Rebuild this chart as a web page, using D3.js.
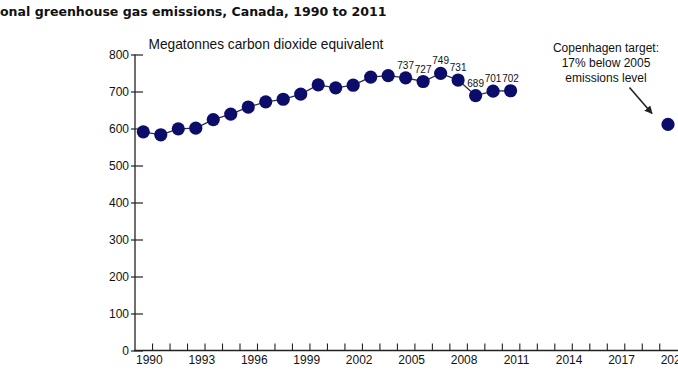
<!DOCTYPE html>
<html><head><meta charset="utf-8">
<script src="https://cdn.jsdelivr.net/npm/d3@7"></script>
<style>
html,body{margin:0;padding:0;background:#fff;}
svg{display:block;}
</style></head>
<body>
<svg id="chart" width="678" height="381"></svg>
<script>
// ---- data ----
const years = [1990,1991,1992,1993,1994,1995,1996,1997,1998,1999,2000,2001,2002,2003,2004,2005,2006,2007,2008,2009,2010,2011];
const emissions = [591,583,599,601,624,639,658,672,679,693,718,710,717,739,743,737,727,749,731,689,701,702];
const labelledYears = [2005,2006,2007,2008,2009,2010,2011];
const targetYear = 2020;
const targetValue = 611;
const yTicks = [0,100,200,300,400,500,600,700,800];
const xLabelYears = [1990,1993,1996,1999,2002,2005,2008,2011,2014,2017,2020];
const xTickYears = d3.range(1990.5, 2020, 1);
const titleText = "National greenhouse gas emissions, Canada, 1990 to 2011";
const titleHidden = "Nati";
const unitText = "Megatonnes carbon dioxide equivalent";
const noteLines = ["Copenhagen target:", "17% below 2005", "emissions level"];

// ---- layout ----
const W = 678, H = 381;
const svg = d3.select("#chart");
const x = d3.scaleLinear().domain([1990, 2020]).range([143.3, 668]);
const y = d3.scaleLinear().domain([0, 800]).range([350.5, 54.5]);
const axisX = 135;
const dotColor = "#0c0c6a";
const inkColor = "#222";

// title (left part cropped like the reference)
const title = svg.append("text")
  .attr("y", 16)
  .attr("font-family", "DejaVu Sans")
  .attr("font-weight", "bold")
  .attr("font-size", 12)
  .attr("fill", "#111")
  .text(titleText);
{
  const full = title.node().getComputedTextLength();
  const tmp = svg.append("text").attr("font-family","DejaVu Sans").attr("font-weight","bold").attr("font-size",12).text(titleHidden);
  const hid = tmp.node().getComputedTextLength();
  tmp.remove();
  const s = 387 / (full - hid);
  title.attr("font-size", 12 * s).attr("x", -hid * s);
}

// unit subtitle
const unit = svg.append("text")
  .attr("x", 148.5).attr("y", 48.5)
  .attr("font-family", "Liberation Sans, Arial, sans-serif")
  .attr("font-size", 13)
  .attr("fill", "#111")
  .text(unitText);
{
  const w = unit.node().getComputedTextLength();
  unit.attr("font-size", 13 * 235 / w);
}

// y axis
const gy = svg.append("g").attr("transform", `translate(${axisX},0)`)
  .call(d3.axisLeft(y).tickValues(yTicks).tickSizeInner(-8).tickSizeOuter(0).tickPadding(6));
gy.select(".domain").remove();
gy.selectAll(".tick line").attr("x1", -4).attr("x2", 8).attr("stroke", inkColor).attr("stroke-width", 1.2);
gy.selectAll(".tick text").attr("font-family", "Liberation Sans, Arial, sans-serif").attr("font-size", 12).attr("fill", "#111");
svg.append("line").attr("x1", axisX).attr("x2", axisX).attr("y1", y(800)).attr("y2", y(0))
  .attr("stroke", inkColor).attr("stroke-width", 1.3);

// x axis: ticks between years
const gx = svg.append("g").attr("transform", `translate(0,${y(0)})`)
  .call(d3.axisBottom(x).tickValues(xTickYears).tickSize(-7).tickFormat(""));
gx.select(".domain").remove();
gx.selectAll(".tick line").attr("stroke", inkColor).attr("stroke-width", 1.1);
svg.append("line").attr("x1", axisX - 1).attr("x2", W).attr("y1", y(0)).attr("y2", y(0))
  .attr("stroke", inkColor).attr("stroke-width", 1.4);

// x labels
const gxl = svg.append("g").attr("transform", `translate(5.5,${y(0) + 3})`)
  .call(d3.axisBottom(x).tickValues(xLabelYears).tickSize(0).tickPadding(2).tickFormat(d3.format("d")));
gxl.select(".domain").remove();
gxl.selectAll(".tick text").attr("font-family", "Liberation Sans, Arial, sans-serif").attr("font-size", 12).attr("fill", "#111");

// connecting line
const line = d3.line().x((d, i) => x(years[i])).y(d => y(d));
svg.append("path").datum(emissions).attr("d", line)
  .attr("fill", "none").attr("stroke", "#2a2a55").attr("stroke-width", 1.3);

// dots
svg.append("g").selectAll("circle").data(years).join("circle")
  .attr("cx", d => x(d)).attr("cy", (d, i) => y(emissions[i])).attr("r", 6.6)
  .attr("fill", dotColor);
svg.append("circle").attr("cx", x(targetYear)).attr("cy", y(targetValue)).attr("r", 6.6).attr("fill", dotColor);

// value labels
svg.append("g").selectAll("text").data(labelledYears).join("text")
  .attr("x", d => x(d)).attr("y", d => y(emissions[years.indexOf(d)]) - 9)
  .attr("text-anchor", "middle")
  .attr("font-family", "Liberation Sans, Arial, sans-serif")
  .attr("font-size", 10)
  .attr("fill", "#111")
  .text(d => emissions[years.indexOf(d)]);

// annotation
svg.append("g").selectAll("text").data(noteLines).join("text")
  .attr("x", 606).attr("y", (d, i) => 51.5 + i * 15)
  .attr("text-anchor", "middle")
  .attr("font-family", "Liberation Sans, Arial, sans-serif")
  .attr("font-size", 12)
  .attr("fill", "#111")
  .text(d => d);

// arrow
svg.append("defs").append("marker").attr("id", "ah")
  .attr("viewBox", "0 0 10 10").attr("refX", 9).attr("refY", 5)
  .attr("markerWidth", 5).attr("markerHeight", 5).attr("orient", "auto")
  .append("path").attr("d", "M0,0 L10,5 L0,10 z").attr("fill", "#222");
svg.append("line").attr("x1", 629.5).attr("y1", 87.5).attr("x2", 652).attr("y2", 113.5)
  .attr("stroke", "#222").attr("stroke-width", 1.6).attr("marker-end", "url(#ah)");
</script>
</body></html>
